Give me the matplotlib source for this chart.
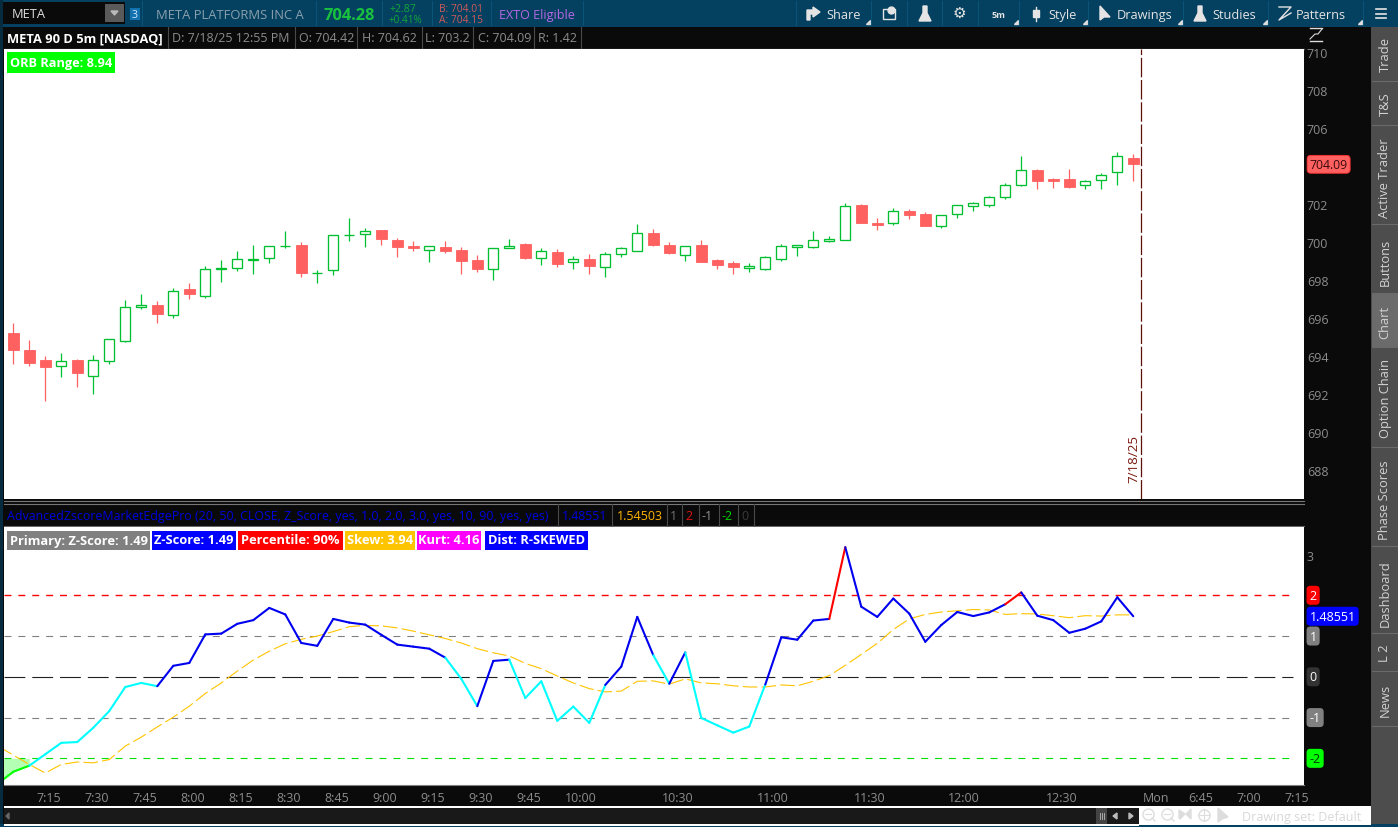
import matplotlib
matplotlib.use('Agg')
import matplotlib.pyplot as plt
from matplotlib.patches import Rectangle, Polygon
import numpy as np

plt.rcParams['font.family'] = ['Open Sans', 'DejaVu Sans']
plt.rcParams['lines.scale_dashes'] = False

# candles, 5 min bars from 7:05 to 12:55
opens = [695.21, 694.30, 693.77, 693.46, 693.77, 692.93, 693.75, 694.81, 696.56, 696.67,
         696.14, 697.51, 697.14, 698.56, 698.61, 699.03, 699.14, 699.77, 699.84, 698.35,
         698.51, 700.37, 700.40, 700.63, 700.10, 699.79, 699.60, 699.74, 699.58, 699.05,
         698.60, 699.67, 699.89, 699.18, 699.47, 698.97, 699.11, 698.70, 699.39, 699.54,
         700.47, 699.84, 699.33, 699.84, 699.05, 698.89, 698.65, 698.60, 699.12, 699.75,
         699.75, 700.07, 700.12, 701.95, 701.00, 701.02, 701.63, 701.47, 700.86, 701.49,
         701.91, 701.97, 702.39, 703.02, 703.79, 703.32, 703.32, 703.02, 703.28, 703.70, 704.42]
closes = [694.33, 693.65, 693.44, 693.72, 693.12, 693.77, 694.88, 696.56, 696.70, 696.23,
          697.40, 697.28, 698.56, 698.65, 699.09, 699.12, 699.77, 699.80, 698.39, 698.39,
          700.35, 700.39, 700.56, 700.16, 699.74, 699.68, 699.77, 699.53, 699.00, 698.58,
          699.67, 699.77, 699.16, 699.51, 698.84, 699.09, 698.74, 699.35, 699.67, 700.46,
          699.84, 699.42, 699.77, 698.95, 698.79, 698.68, 698.74, 699.19, 699.77, 699.84,
          700.09, 700.16, 701.88, 701.00, 700.89, 701.61, 701.42, 700.84, 701.40, 701.93,
          702.04, 702.35, 702.98, 703.77, 703.21, 703.21, 702.89, 703.19, 703.51, 704.51, 704.09]
highs = [695.74, 694.84, 694.00, 694.16, 693.84, 694.05, 694.88, 696.95, 697.26, 696.89,
         697.58, 697.84, 698.74, 699.05, 699.53, 699.84, 699.77, 700.58, 700.00, 698.53,
         700.35, 701.26, 700.74, 700.63, 700.21, 700.05, 699.77, 700.05, 699.74, 699.32,
         699.67, 700.16, 699.95, 699.67, 699.63, 699.26, 699.37, 699.47, 699.74, 700.95,
         700.68, 700.00, 699.77, 700.11, 699.11, 699.00, 698.89, 699.26, 699.89, 699.84,
         700.58, 700.32, 702.05, 702.00, 701.26, 701.79, 701.74, 701.58, 701.40, 701.93,
         702.11, 702.42, 703.11, 704.53, 703.84, 703.37, 703.84, 703.26, 703.63, 704.74, 704.62]
lows = [693.58, 693.49, 691.65, 692.91, 692.37, 692.00, 693.60, 694.74, 696.47, 695.74,
        696.02, 697.00, 697.05, 697.89, 698.47, 698.32, 698.89, 699.70, 698.16, 697.84,
        698.26, 700.05, 699.74, 699.84, 699.21, 699.53, 698.95, 699.42, 698.32, 698.42,
        698.00, 699.67, 699.11, 698.79, 698.68, 698.58, 698.32, 698.16, 699.21, 699.54,
        699.79, 699.37, 699.00, 698.95, 698.58, 698.32, 698.42, 698.53, 699.00, 699.26,
        699.68, 700.00, 700.12, 701.00, 700.63, 700.89, 701.21, 700.84, 700.74, 701.26,
        701.63, 701.84, 702.26, 702.95, 702.79, 702.84, 702.84, 702.79, 702.79, 703.00, 703.20]

# study, the first point is the bar before the chart edge
zscore = [-2.63, -2.33, -2.18, -1.90, -1.62, -1.60, -1.25, -0.84, -0.25, -0.15, -0.23,
          0.27, 0.34, 1.04, 1.06, 1.30, 1.39, 1.69, 1.53, 0.83, 0.76,
          1.42, 1.33, 1.28, 1.03, 0.79, 0.74, 0.69, 0.47, -0.05, -0.72,
          0.39, 0.42, -0.52, -0.11, -1.08, -0.73, -1.13, -0.20, 0.25, 1.47,
          0.53, -0.17, 0.60, -1.01, -1.19, -1.37, -1.22, -0.19, 0.97, 0.91,
          1.38, 1.42, 3.18, 1.72, 1.47, 1.92, 1.55, 0.86, 1.27, 1.59,
          1.49, 1.58, 1.78, 2.07, 1.50, 1.39, 1.08, 1.18, 1.36, 1.95, 1.48551]
zavg = [-1.69, -1.92, -2.15, -2.36, -2.15, -2.09, -2.11, -2.03, -1.70, -1.48, -1.23,
        -0.99, -0.72, -0.41, -0.15, 0.14, 0.41, 0.63, 0.81, 0.92, 1.00,
        1.11, 1.23, 1.26, 1.25, 1.20, 1.12, 1.03, 0.94, 0.83, 0.69,
        0.59, 0.51, 0.33, 0.20, 0.02, -0.15, -0.29, -0.37, -0.35, -0.11,
        -0.10, -0.18, -0.05, -0.15, -0.17, -0.22, -0.25, -0.25, -0.20, -0.22,
        -0.11, 0.03, 0.28, 0.55, 0.82, 1.16, 1.42, 1.53, 1.59, 1.62,
        1.65, 1.64, 1.53, 1.55, 1.54, 1.50, 1.45, 1.50, 1.49, 1.52, 1.52]

price_ticks = [688, 690, 692, 694, 696, 698, 700, 702, 706, 708, 710]
time_ticks = [2.2, 5.2, 8.2, 11.2, 14.2, 17.2, 20.2, 23.2, 26.2, 29.2, 32.2, 35.5, 41.5,
              47.5, 53.5, 59.4, 65.5, 71.4, 74.2, 77.2, 80.2]
time_labels = ['7:15', '7:30', '7:45', '8:00', '8:15', '8:30', '8:45', '9:00', '9:15', '9:30',
               '9:45', '10:00', '10:30', '11:00', '11:30', '12:00', '12:30', 'Mon', '6:45',
               '7:00', '7:15']

W, H = 1398, 828
GREEN = '#00c030'
RED = '#ff6060'
NAVY = '#04405f'
BLACK = '#0a0a0a'
AXIS_GRAY = '#8c8c8c'
ICON = '#e4e4e4'

fig = plt.figure(figsize=(W / 100, H / 100), dpi=100, facecolor=BLACK)


def px_axes(x0, y0, x1, y1):
    return fig.add_axes([x0 / W, 1 - y1 / H, (x1 - x0) / W, (y1 - y0) / H])


# chrome layer in pixel coordinates
ui = fig.add_axes([0, 0, 1, 1], zorder=0)
ui.set_xlim(0, W)
ui.set_ylim(H, 0)
ui.axis('off')


def box(x0, y0, x1, y1, color):
    ui.add_patch(Rectangle((x0, y0), x1 - x0, y1 - y0, facecolor=color, edgecolor='none'))


def txt(x, y, s, color='#ffffff', size=9, ha='left', **kw):
    ui.text(x, y + 1, s, color=color, fontsize=size, ha=ha, va='center', **kw)


box(0, 0, W, 28, NAVY)
box(0, 0, 3, H, '#062a3e')
box(0, 825, W, H, NAVY)
box(3, 3, 125, 25, BLACK)
box(105, 5, 124, 23, '#5a5a5a')
ui.add_patch(Polygon([[111, 12], [118, 12], [114.5, 16]], color='#bbbbbb'))
txt(12, 14, 'META', '#dddddd', 9.3)
box(130, 9, 140, 21, '#1272b0')
txt(135, 14.5, '3', '#cfe8ff', 7.5, ha='center')
for sx in [142, 316, 382, 432, 491, 583, 796, 871, 907, 942, 978, 1019, 1088, 1183, 1268, 1363]:
    ui.plot([sx, sx], [2, 26], color='#0a5577', lw=0.8)
txt(156, 14.5, 'META PLATFORMS INC A', '#8aa0ad', 9.4)
txt(324, 14.5, '704.28', '#19c23e', 11.8, fontweight='bold')
txt(389, 8.5, '+2.87', '#13a838', 7.6)
txt(389, 19.5, '+0.41%', '#13a838', 7.2)
txt(439, 8.5, 'B: 704.01', '#d05a5a', 7.4)
txt(439, 19.5, 'A: 704.15', '#d05a5a', 7.4)
txt(499, 14.5, 'EXTO Eligible', '#b868e8', 9)

# toolbar
for tx, label in [(826, 'Share'), (1048, 'Style'), (1117, 'Drawings'), (1212, 'Studies'), (1296, 'Patterns')]:
    txt(tx, 14.5, label, ICON, 9.2)
txt(998, 14, '5m', ICON, 6.5, ha='center', fontweight='bold')
txt(959, 13.5, '\u2699', ICON, 11, ha='center')
ui.add_patch(Polygon([[807, 21], [807, 11], [813, 11], [813, 8], [820, 13], [813, 18], [813, 15], [810, 15], [810, 21]],
                     color=ICON))
ui.add_patch(Rectangle((883, 10), 12, 10, facecolor='none', edgecolor=ICON, lw=1))
ui.plot([891], [11], marker='o', ms=5, color=ICON)
for fx in [925, 1200]:
    ui.add_patch(Polygon([[fx - 2, 7], [fx + 2, 7], [fx + 2, 14], [fx + 6, 22], [fx - 6, 22], [fx - 2, 14]], color=ICON))
ui.add_patch(Polygon([[1100, 7], [1100, 21], [1104, 18], [1110, 18]], color=ICON))
ui.plot([1036, 1036], [8, 22], color=ICON, lw=1)
ui.add_patch(Rectangle((1033, 11), 6, 7, color=ICON))
ui.plot([1279, 1291, 1279, 1291], [8, 8, 21, 14], color=ICON, lw=1)
for ly in [10, 14.5, 19]:
    ui.plot([1376, 1386], [ly, ly], color=ICON, lw=1.2)
for cx in [871, 1019, 1088, 1183, 1268, 1363]:
    ui.add_patch(Polygon([[cx - 5, 25], [cx - 1, 25], [cx - 1, 21]], color='#dddddd'))

# header row
ui.plot([4, 1304], [49.5, 49.5], color='#555555', lw=1)
txt(7, 38, 'META 90 D 5m [NASDAQ]', '#ffffff', 9.3, fontweight='bold')
for sx in [168, 295, 357, 422, 473, 534, 581]:
    ui.plot([sx, sx], [28, 49], color='#4a4a4a', lw=0.8)
for tx, label in [(172, 'D: 7/18/25 12:55 PM'), (299, 'O: 704.42'), (362, 'H: 704.62'), (425, 'L: 703.2'),
                  (478, 'C: 704.09'), (538, 'R: 1.42')]:
    txt(tx, 38, label, '#8c8c8c', 9)
ui.plot([1310, 1322], [29, 29], color='#dddddd', lw=1)
ui.plot([1310, 1322], [42, 42], color='#dddddd', lw=1)
ui.plot([1310, 1315, 1318, 1322], [40, 35, 35, 30], color='#dddddd', lw=0.8)

# divider and study header
ui.plot([4, 1304], [501.5, 501.5], color='#777777', lw=0.8)
ui.plot([4, 1304], [504.5, 504.5], color='#777777', lw=0.8)
ui.plot([4, 1304], [527, 527], color='#666666', lw=0.8)
txt(7, 516, 'AdvancedZscoreMarketEdgePro (20, 50, CLOSE, Z_Score, yes, 1.0, 2.0, 3.0, yes, 10, 90, yes, yes)',
    '#0000e0', 8.95)
for sx in [558, 612, 667, 682, 699, 719, 738, 754]:
    ui.plot([sx, sx], [505, 527], color='#4a4a4a', lw=0.8)
txt(562, 516, '1.48551', '#0000e0', 8.8)
txt(617, 516, '1.54503', '#ffb300', 9)
txt(673, 516, '1', '#707070', 9, ha='center')
txt(689, 516, '2', '#e01010', 9, ha='center')
txt(707, 516, '-1', '#909090', 9, ha='center')
txt(727, 516, '-2', '#00d000', 9, ha='center')
txt(745, 516, '0', '#3a3a3a', 9, ha='center')

# bottom strip
box(4, 807, 1371, 809, '#ffffff')
box(4, 809, 1139, 825, '#191919')
box(1139, 809, 1371, 826, '#ffffff')
box(4, 825, 1139, 827, '#ffffff')
box(1096, 809, 1107, 825, '#444444')
for sx in [1100, 1102, 1104]:
    ui.plot([sx, sx], [814, 820], color='#bbbbbb', lw=0.6)
ui.add_patch(Polygon([[1117, 814], [1117, 820], [1113, 817]], color='#bbbbbb'))
ui.add_patch(Polygon([[1129, 814], [1129, 820], [1133, 817]], color='#bbbbbb'))
ui.add_patch(Polygon([[9, 814], [9, 820], [6, 817]], color='#666666'))
txt(1242, 816.5, 'Drawing set: Default', '#d8d8d8', 9)
for cx in [1148, 1167]:
    ui.plot([cx], [815], marker='o', ms=8, mfc='none', mec='#dddddd', mew=1)
    ui.plot([cx - 3, cx + 3], [815, 815], color='#dddddd', lw=0.8)
    ui.plot([cx + 4, cx + 7], [819, 822], color='#dddddd', lw=1)
ui.add_patch(Polygon([[1179, 811], [1179, 819], [1180, 820], [1185, 815]], color='#dddddd'))
ui.add_patch(Polygon([[1191, 810], [1191, 820], [1186, 815]], color='#dddddd'))
ui.plot([1204], [816], marker='o', ms=8, mfc='none', mec='#dddddd', mew=1)
ui.plot([1198, 1210], [816, 816], color='#dddddd', lw=0.8)
ui.plot([1204, 1204], [810, 822], color='#dddddd', lw=0.8)
ui.add_patch(Polygon([[1218, 809], [1218, 823], [1222, 820], [1228, 818]], color='#dddddd'))

# right tabs
box(1371, 28, W, 825, '#4d4d4d')
box(1372, 294, W, 348, '#6b6b6b')
for ty in [82, 126, 225, 294, 348, 448, 547, 634, 672, 727]:
    ui.plot([1372, W], [ty, ty], color='#6a6a6a', lw=0.8)
for ty, label in [(55, 'Trade'), (104, 'T&S'), (178, 'Active Trader'), (262, 'Buttons'), (322, 'Chart'),
                  (399, 'Option Chain'), (500, 'Phase Scores'), (594, 'Dashboard'), (653, 'L 2'), (700, 'News')]:
    ui.text(1385, ty, label, color='#d2d2d2', fontsize=9.3, rotation=90, ha='center', va='center')

# price panel, one bar is 16 px, $1 is 19 px
ax = px_axes(4, 50, 1304, 500)
ax.set_zorder(2)
ax.set_xlim(-0.58, 80.67)
ax.set_ylim(686.47, 710.16)
x = np.arange(len(opens))
o = np.array(opens)
c = np.array(closes)
up = c >= o
ax.vlines(x[up], np.array(lows)[up], np.array(highs)[up], color=GREEN, lw=0.9, zorder=2)
ax.vlines(x[~up], np.array(lows)[~up], np.array(highs)[~up], color=RED, lw=0.9, zorder=2)
ax.bar(x[~up], (o - c)[~up], bottom=c[~up], width=0.66, color=RED, edgecolor=RED, lw=0.6, zorder=3)
ax.bar(x[up], (c - o)[up], bottom=o[up], width=0.62, facecolor='white', edgecolor=GREEN, lw=0.95, zorder=3)
ax.axvline(70.46, color='#5c1008', lw=0.9, ls=(0, (14, 2)), zorder=1)
ax.text(70.04, 687.37, '7/18/25', color='#7a1a10', fontsize=9.6, rotation=90, ha='center', va='bottom')
ax.add_patch(Rectangle((3 / 1300, 1 - 24 / 450), 108 / 1300, 21 / 450, transform=ax.transAxes,
                       facecolor='#00ff00', edgecolor='none', zorder=5))
ax.text(57 / 1300, 1 - 13.5 / 450, 'ORB Range: 8.94', transform=ax.transAxes, color='white', fontsize=9.2,
        fontweight='bold', va='center', ha='center', zorder=6)
ax.set_xticks([])
ax.yaxis.tick_right()
ax.set_yticks(price_ticks)
ax.tick_params(axis='y', length=0, pad=2, labelsize=9, labelcolor=AXIS_GRAY)
for s in ax.spines.values():
    s.set_visible(False)
ax.annotate('704.09', xy=(1, closes[-1]), xycoords=('axes fraction', 'data'), xytext=(4, 0), textcoords='offset points',
            color='#3a0a0a', fontsize=8.8, va='center', ha='left',
            bbox=dict(boxstyle='round,pad=0.2,rounding_size=0.3', facecolor=RED, edgecolor='#ff3030', lw=0.6))

# study panel, one unit is 40.75 px
az = px_axes(4, 528, 1304, 786)
az.set_zorder(2)
az.set_xlim(-0.58, 80.67)
az.set_ylim(-2.654, 3.675)
xz = np.arange(-1, len(zscore) - 1)
z = np.array(zscore)

az.fill_between(xz[:3], z[:3], -2, color='#b3ffb3', lw=0, zorder=1)
for level, color, width, pattern in [(2, '#ff0000', 1.0, (5, 5)), (1, '#808080', 0.8, (5, 5)), (-1, '#808080', 0.8, (5, 5)),
                                     (-2, '#00e000', 0.8, (5, 5)), (0, '#222222', 0.8, (15, 5))]:
    az.plot([-0.58, 80], [level, level], color=color, lw=width, ls=(0, pattern), zorder=2)
az.plot(xz, zavg, color='#ffc400', lw=0.8, ls=(0, (10.5, 3)), zorder=3)
for i in range(1, len(z)):
    if z[i] >= 2:
        seg_color = '#ff0000'
    elif z[i] >= 0:
        seg_color = '#0000f0'
    elif z[i] > -2:
        seg_color = '#00ffff'
    else:
        seg_color = '#00ff00'
    az.plot(xz[i - 1:i + 1], z[i - 1:i + 1], color=seg_color, lw=1.5, solid_capstyle='round', zorder=4)

az.yaxis.tick_right()
az.set_yticks([3])
az.tick_params(axis='y', length=0, pad=2, labelsize=9, labelcolor=AXIS_GRAY)
az.set_xticks(time_ticks)
az.set_xticklabels(time_labels)
az.tick_params(axis='x', length=0, pad=4.5, labelsize=9, labelcolor=AXIS_GRAY)
for s in az.spines.values():
    s.set_visible(False)
az.spines['bottom'].set_visible(True)
az.spines['bottom'].set_color('#808080')

for value, label, face, fg in [(2, '2', '#ff0000', 'white'), (zscore[-1], '1.48551', '#0000ff', 'white'),
                               (1, '1', '#808080', 'white'), (0, '0', '#333333', 'white'),
                               (-1, '-1', '#808080', 'white'), (-2, '-2', '#00ff00', '#003300')]:
    az.annotate(label, xy=(1, value), xycoords=('axes fraction', 'data'), xytext=(4, 0), textcoords='offset points',
                color=fg, fontsize=9, va='center', ha='left',
                bbox=dict(boxstyle='round,pad=0.24,rounding_size=0.3', facecolor=face, edgecolor='none'))

left = 4
for x0, x1, label, face in [(7, 150, 'Primary: Z-Score: 1.49', '#808080'), (152, 236, 'Z-Score: 1.49', '#0000ff'),
                            (238, 342.5, 'Percentile: 90%', '#ff0000'), (345, 415, 'Skew: 3.94', '#ffc400'),
                            (417, 481, 'Kurt: 4.16', '#ff00ff'), (485, 588, 'Dist: R-SKEWED', '#0000ff')]:
    az.add_patch(Rectangle(((x0 - left) / 1300, 1 - 23 / 258), (x1 - x0) / 1300, 19 / 258, transform=az.transAxes,
                           facecolor=face, edgecolor='none', zorder=5))
    az.text(((x0 + x1) / 2 - left) / 1300, 1 - 13 / 258, label, transform=az.transAxes, color='white', fontsize=9.3,
            fontweight='bold', ha='center', va='center', zorder=6)

fig.savefig('out.png', dpi=100, facecolor=BLACK)
